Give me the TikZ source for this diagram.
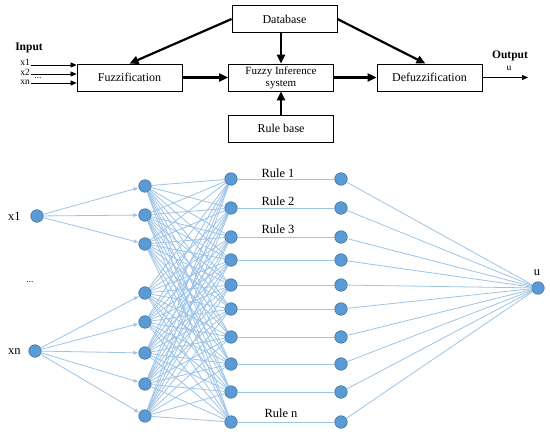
\documentclass[tikz,border=0pt]{standalone}
\usepackage{fontspec}
\setmainfont{Liberation Serif}
\usetikzlibrary{arrows.meta}
\definecolor{nodefill}{HTML}{5B9BD5}
\definecolor{nodeline}{HTML}{41719C}
\definecolor{edgec}{HTML}{9DC3E6}
\begin{document}
\begin{tikzpicture}[x=1pt,y=-1pt,
  box/.style={draw=black,line width=0.8pt,minimum width=105pt,minimum height=27pt,inner sep=0pt,font=\fontsize{12}{14}\selectfont},
  bigarrow/.style={line width=2.2pt,-{Triangle[length=9pt,width=8pt]}},
  thinarrow/.style={line width=0.6pt,-{Triangle[length=6pt,width=5pt]}},
  neuron/.style={circle,fill=nodefill,draw=nodeline,line width=0.6pt,minimum size=12.5pt,inner sep=0pt},
  link/.style={draw=edgec,line width=0.8pt},
  linkarrow/.style={link,-{Latex[length=5pt,width=4pt]}},
  lab/.style={font=\fontsize{12.5}{14}\selectfont,inner sep=0pt},
  small/.style={font=\fontsize{9.5}{10}\selectfont,inner sep=0pt}]
\useasboundingbox (0,0) rectangle (550,434);

% ---------- top block diagram ----------
\node[box] (db) at (284.5,19) {Database};
\node[box] (fuz) at (129.5,77.5) {Fuzzification};
\node[box,align=center,font=\fontsize{11}{12}\selectfont] (fis) at (281,77.5) {Fuzzy Inference\\system};
\node[box] (defuz) at (429.5,77.5) {Defuzzification};
\node[box] (rb) at (281,128.5) {Rule base};

\draw[bigarrow] (db.west) -- (fuz.north);
\draw[bigarrow] (db.east) -- ([xshift=-4pt]defuz.north);
\draw[bigarrow] (fis.north |- db.south) -- (fis.north);
\draw[bigarrow] (rb.north) -- (fis.south);
\draw[bigarrow] (fuz.east) -- (fis.west);
\draw[bigarrow] (fis.east) -- (defuz.west);

\node[font=\bfseries\fontsize{11.5}{13}\selectfont,inner sep=0pt] (inlab) at (29,48) {Input};
\node[small,anchor=east] (tx1) at (30,62.5) {x1};
\node[small,anchor=east] (tx2) at (30,72) {x2};
\node[small,anchor=east] (txn) at (30,82) {xn};
\node[small] (tdots) at (38,78) {...};
\coordinate (i1) at (31,65);
\coordinate (i2) at (31,74);
\coordinate (i3) at (31,83);
\draw[thinarrow] (i1) -- (i1 -| fuz.west);
\draw[thinarrow] (i2) -- (i2 -| fuz.west);
\draw[thinarrow] (i3) -- (i3 -| fuz.west);

\node[font=\bfseries\fontsize{11.5}{13}\selectfont,inner sep=0pt] (outlab) at (510,56) {Output};
\node[small] (tu) at (509,68) {u};
\coordinate (o1) at (528,77.5);
\draw[thinarrow] (defuz.east) -- (o1);

% ---------- bottom network ----------
\node[neuron] (x1) at (37,216) {};
\node[neuron] (xn) at (35,351) {};
\node[lab] (lx1) at (14.5,216) {x1};
\node[lab] (lxn) at (14.5,352) {xn};
\node[small] (ldots) at (30,282) {...};

\foreach \y [count=\i] in {186,215,244,293,322,353,384,416}
  \node[neuron] (a\i) at (145,\y) {};
\foreach \y [count=\i] in {179,208,237,260,285,309,337,364,392,422}{
  \node[neuron] (b\i) at (231,\y) {};
  \node[neuron] (c\i) at (341,\y) {};
}
\node[neuron] (u) at (538,288) {};
\node[lab] (lu) at (537,273) {u};

\node[lab] (r1) at (278,173) {Rule 1};
\node[lab] (r2) at (278,201) {Rule 2};
\node[lab] (r3) at (278,229) {Rule 3};
\node[lab] (rn) at (281,413) {Rule n};

\foreach \i in {1,2,3} \draw[linkarrow] (x1) -- (a\i);
\foreach \i in {4,...,8} \draw[linkarrow] (xn) -- (a\i);
\foreach \i in {1,...,8}
  \foreach \j in {1,...,10}
    \draw[link] (a\i) -- (b\j);
\foreach \j in {1,...,10}{
  \draw[link] (b\j) -- (c\j);
  \draw[link] (c\j) -- (u);
}
\end{tikzpicture}
\end{document}
